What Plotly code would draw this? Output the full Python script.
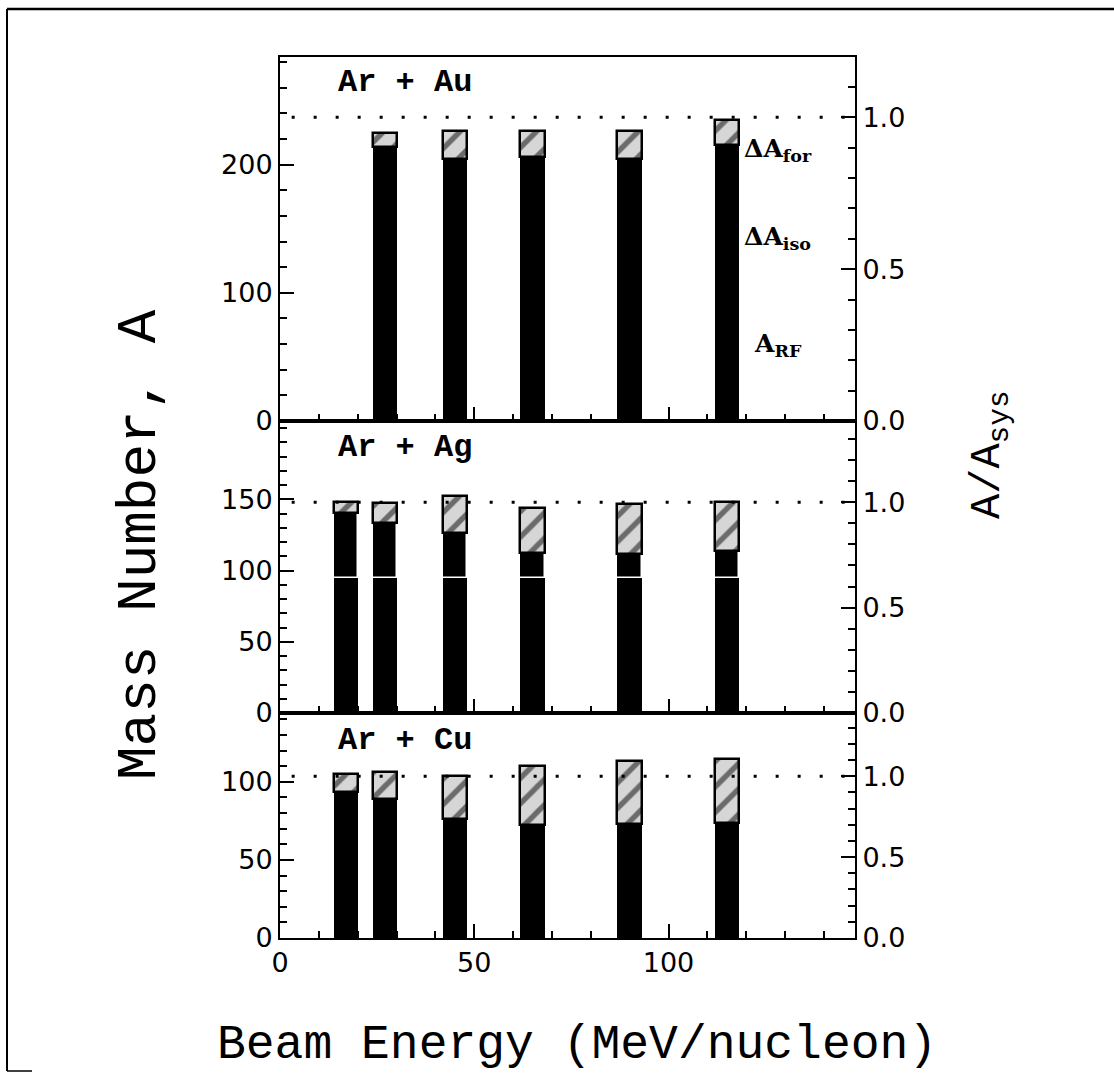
import plotly.graph_objects as go

# ---------------- data ----------------
energies_au = [27, 45, 65, 90, 115]
energies_ag = [17, 27, 45, 65, 90, 115]
energies_cu = [17, 27, 45, 65, 90, 115]

au_black = [213.5, 204.5, 206, 204.5, 215]      # A_RF + dA_iso
au_total = [224.5, 226, 226.5, 226, 235]        # + dA_for

ag_rf = [95, 95, 95, 95, 95, 95]
ag_black = [140.5, 133.5, 126.5, 112.5, 111.5, 114]
ag_total = [148, 147.5, 152, 144, 146.5, 148]

cu_black = [93.5, 89, 76, 72.5, 73, 73.5]
cu_total = [105, 106.5, 104, 110, 113.5, 114.5]

a_sys_au = 237
a_sys_ag = 148
a_sys_cu = 103.5

x_range = [0, 148]
y_range_au = [0, 284]
y_range_ag = [0, 205]
y_range_cu = [0, 144]

# --------------- layout geometry (pixels) ---------------
W, H = 1114, 1077
L, R, T, B = 280, 855, 57, 938
PW, PH = R - L, B - T


def px(x):
    return (x - L) / PW


def py(y):
    return (B - y) / PH


d_bot = [0, py(713)]
d_mid = [py(713), py(421)]
d_top = [py(421), 1]

BAR_W = 6.3
HATCH = dict(shape="/", fgcolor="black", bgcolor="#d6d6d6", size=18, solidity=0.3, fillmode="overlay")

fig = go.Figure()


def add_panel(xs, black, total, xa, ya, rf=None):
    diff = [t - b for t, b in zip(total, black)]
    if rf is None:
        fig.add_trace(go.Bar(x=xs, y=black, base=[0] * len(xs), width=BAR_W,
                             marker=dict(color="black", line=dict(width=0)),
                             xaxis=xa, yaxis=ya, showlegend=False, hoverinfo="skip"))
    else:
        fig.add_trace(go.Bar(x=xs, y=rf, base=[0] * len(xs), width=BAR_W,
                             marker=dict(color="black", line=dict(width=0)),
                             xaxis=xa, yaxis=ya, showlegend=False, hoverinfo="skip"))
        up = [b - r for b, r in zip(black, rf)]
        fig.add_trace(go.Bar(x=xs, y=up, base=rf, width=BAR_W,
                             marker=dict(color="black", line=dict(color="white", width=1.5)),
                             xaxis=xa, yaxis=ya, showlegend=False, hoverinfo="skip"))
    fig.add_trace(go.Bar(x=xs, y=diff, base=black, width=BAR_W,
                         marker=dict(color="#d6d6d6", pattern=HATCH,
                                     line=dict(color="black", width=2.5)),
                         xaxis=xa, yaxis=ya, showlegend=False, hoverinfo="skip"))


add_panel(energies_cu, cu_black, cu_total, "x", "y")
add_panel(energies_ag, ag_black, ag_total, "x2", "y2", rf=ag_rf)
add_panel(energies_au, au_black, au_total, "x3", "y3")

# dotted A/A_sys = 1 lines on the right axes
for ya, xa in (("y4", "x"), ("y5", "x2"), ("y6", "x3")):
    fig.add_trace(go.Scatter(x=[3, x_range[1]], y=[1.0, 1.0], mode="lines",
                             line=dict(color="black", width=3, dash="3px,19px"),
                             xaxis=xa, yaxis=ya, showlegend=False, hoverinfo="skip"))

tick_font = dict(family="DejaVu Sans, Arial, sans-serif", size=27, color="black")


def xaxis(anchor, labels):
    return dict(domain=[0, 1], range=x_range, anchor=anchor, showline=True, linecolor="black",
                linewidth=2, mirror=True, ticks="inside", ticklen=14, tickwidth=1.5,
                tickcolor="black", tickvals=[0, 50, 100], showticklabels=labels,
                tickfont=tick_font, showgrid=False, zeroline=False, fixedrange=True,
                minor=dict(dtick=10, tick0=0, ticks="inside", ticklen=7, tickwidth=1.5,
                           tickcolor="black", showgrid=False))


def yleft(domain, rng, vals, mdt, anchor):
    return dict(domain=domain, range=rng, anchor=anchor, showline=True, linecolor="black",
                linewidth=2, ticks="inside", ticklen=14, tickwidth=1.5, tickcolor="black",
                tickvals=vals, tickfont=tick_font, showgrid=False, zeroline=False,
                minor=dict(dtick=mdt, tick0=0, ticks="inside", ticklen=7, tickwidth=1.5,
                           tickcolor="black", showgrid=False))


def yright(over, rng, asys, anchor):
    return dict(overlaying=over, side="right", anchor=anchor, range=[rng[0] / asys, rng[1] / asys],
                showline=True, linecolor="black", linewidth=2, ticks="inside", ticklen=14,
                tickwidth=1.5, tickcolor="black", tickvals=[0, 0.5, 1.0], tickformat=".1f",
                tickfont=tick_font, showgrid=False, zeroline=False,
                minor=dict(dtick=0.1, tick0=0, ticks="inside", ticklen=7, tickwidth=1.5,
                           tickcolor="black", showgrid=False))


annots = []
lab_font = dict(family="Liberation Mono, Courier New, monospace", size=32, color="black")
for txt, y in (("<b>Ar + Au</b>", 82), ("<b>Ar + Ag</b>", 448), ("<b>Ar + Cu</b>", 740)):
    annots.append(dict(text=txt, x=px(405), y=py(y), xref="paper", yref="paper",
                       showarrow=False, font=lab_font, xanchor="center", yanchor="middle"))

leg_font = dict(family="DejaVu Serif, serif", size=25, color="black")
for txt, x, y in (("<b>ΔA<sub>for</sub></b>", 742, 150), ("<b>ΔA<sub>iso</sub></b>", 742, 238),
                  ("<b>A<sub>RF</sub></b>", 752, 345)):
    annots.append(dict(text=txt, x=px(x), y=py(y), xref="paper", yref="paper", showarrow=False,
                       font=leg_font, xanchor="left", yanchor="middle"))

title_font = dict(family="Liberation Mono, Courier New, monospace", size=48, color="black")
annots.append(dict(text="Beam Energy (MeV/nucleon)", x=px(577), y=py(1045), xref="paper",
                   yref="paper", showarrow=False, font=title_font, xanchor="center", yanchor="middle"))
annots.append(dict(text="Mass Number, A", x=px(140), y=py(545), xref="paper", yref="paper",
                   showarrow=False,
                   font=dict(family="Liberation Mono, Courier New, monospace", size=56, color="black"),
                   textangle=-90, xanchor="center", yanchor="middle"))
annots.append(dict(text="A/A<sub>sys</sub>", x=px(990), y=py(455), xref="paper", yref="paper",
                   showarrow=False, font=dict(family="Liberation Mono, Courier New, monospace",
                                              size=42, color="black"),
                   textangle=-90, xanchor="center", yanchor="middle"))

shapes = [
    dict(type="line", xref="paper", yref="paper", x0=px(7), y0=py(9), x1=px(1114), y1=py(9),
         line=dict(color="black", width=2.5)),
    dict(type="line", xref="paper", yref="paper", x0=px(7), y0=py(9), x1=px(7), y1=py(1071),
         line=dict(color="black", width=2)),
    dict(type="line", xref="paper", yref="paper", x0=px(7), y0=py(1071), x1=px(32), y1=py(1071),
         line=dict(color="black", width=1.5)),
]

fig.update_layout(
    width=W, height=H,
    margin=dict(l=L, r=W - R, t=T, b=H - B, pad=0),
    paper_bgcolor="white", plot_bgcolor="white",
    barmode="overlay", bargap=0,
    xaxis=xaxis("y", True),
    xaxis2=xaxis("y2", False),
    xaxis3=xaxis("y3", False),
    yaxis=yleft(d_bot, y_range_cu, [0, 50, 100], 10, "x"),
    yaxis2=yleft(d_mid, y_range_ag, [0, 50, 100, 150], 10, "x2"),
    yaxis3=yleft(d_top, y_range_au, [0, 100, 200], 20, "x3"),
    yaxis4=yright("y", y_range_cu, a_sys_cu, "x"),
    yaxis5=yright("y2", y_range_ag, a_sys_ag, "x2"),
    yaxis6=yright("y3", y_range_au, a_sys_au, "x3"),
    annotations=annots,
    shapes=shapes,
)
fig.update_xaxes(matches="x")

fig.write_html("out.html")
